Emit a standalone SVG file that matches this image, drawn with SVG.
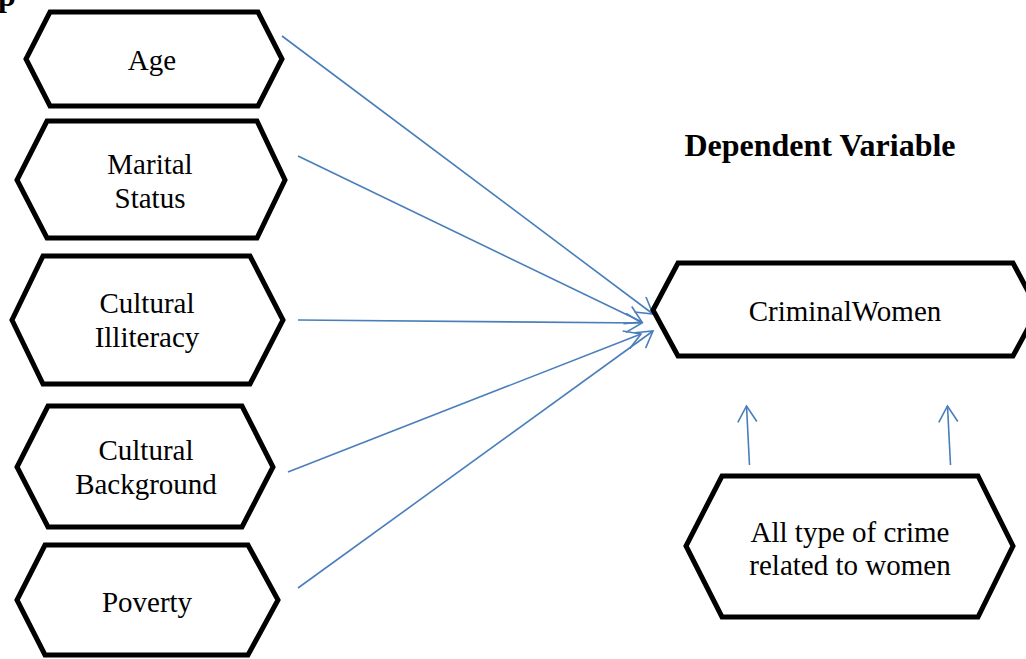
<svg xmlns="http://www.w3.org/2000/svg" width="1026" height="659" viewBox="0 0 1026 659">
<defs>
<style>
.hex{fill:#fff;stroke:#000;stroke-width:5;stroke-linejoin:miter}
.t{font-family:"Liberation Serif","Times New Roman",serif;font-size:29px;fill:#000;text-anchor:middle}
.b{font-family:"Liberation Serif","Times New Roman",serif;font-weight:bold;fill:#000}
.c{fill:none;stroke:#4a7ebb;stroke-width:1.6}
</style>
<marker id="ah" markerUnits="userSpaceOnUse" markerWidth="22" markerHeight="24" refX="17" refY="10" orient="auto" viewBox="0 0 22 24">
<path d="M1,0.5 L17,10 L1,19.5" fill="none" stroke="#4a7ebb" stroke-width="1.6"/>
</marker>
</defs>
<rect width="1026" height="659" fill="#fff"/>
<text class="b" x="-2" y="6" font-size="32">p</text>
<g id="connectors">
<line class="c" x1="282" y1="36" x2="653" y2="314" marker-end="url(#ah)"/>
<line class="c" x1="298" y1="156" x2="642" y2="322" marker-end="url(#ah)"/>
<line class="c" x1="298" y1="320" x2="642" y2="323" marker-end="url(#ah)"/>
<line class="c" x1="288" y1="472" x2="641" y2="334" marker-end="url(#ah)"/>
<line class="c" x1="298" y1="588" x2="653" y2="331" marker-end="url(#ah)"/>
<line class="c" x1="749.5" y1="465" x2="746.5" y2="406" marker-end="url(#ah)"/>
<line class="c" x1="950.5" y1="465" x2="947.5" y2="406" marker-end="url(#ah)"/>
</g>
<g id="age">
<polygon class="hex" points="50,12 258,12 282,59 258,106 50,106 26,59"/>
<text class="t" x="152" y="70">Age</text>
</g>
<g id="marital-status">
<polygon class="hex" points="47,121 257,121 285,180 257,238 47,238 17,180"/>
<text class="t" x="150" y="174">Marital</text>
<text class="t" x="150" y="208">Status</text>
</g>
<g id="cultural-illiteracy">
<polygon class="hex" points="43,256 250,256 283,320 250,384 43,384 12,320"/>
<text class="t" x="147" y="313">Cultural</text>
<text class="t" x="147" y="347">Illiteracy</text>
</g>
<g id="cultural-background">
<polygon class="hex" points="48,406 242,406 273,467 242,527 48,527 17,467"/>
<text class="t" x="146" y="460">Cultural</text>
<text class="t" x="146" y="494">Background</text>
</g>
<g id="poverty">
<polygon class="hex" points="45,545 248,545 278,600 248,655 45,655 17,600"/>
<text class="t" x="147" y="612">Poverty</text>
</g>
<g id="dependent-variable-title">
<text class="b" x="820" y="156" font-size="32" text-anchor="middle">Dependent Variable</text>
</g>
<g id="criminal-women">
<polygon class="hex" points="678,263 1013,263 1038,310 1013,356 678,356 653,310"/>
<text class="t" x="845" y="321">CriminalWomen</text>
</g>
<g id="all-type-of-crime">
<polygon class="hex" points="722,476 978,476 1013,546 978,617 722,617 686,546"/>
<text class="t" x="850" y="542">All type of crime</text>
<text class="t" x="850" y="575">related to women</text>
</g>
</svg>
